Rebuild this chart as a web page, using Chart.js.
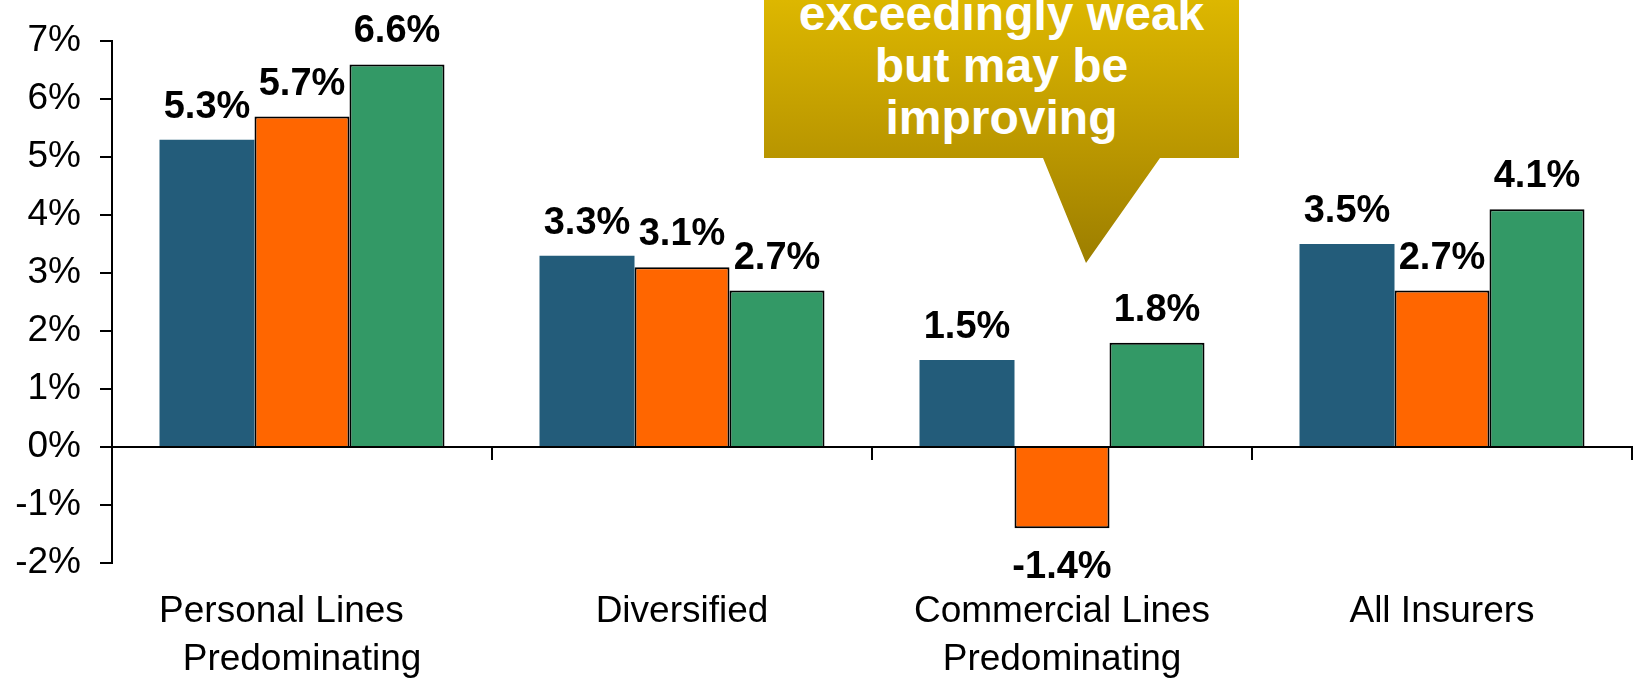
<!DOCTYPE html>
<html>
<head>
<meta charset="utf-8">
<title>ROE by segment</title>
<script src="https://cdn.jsdelivr.net/npm/chart.js@4.4.1/dist/chart.umd.min.js"></script>
<style>
  body { margin: 0; background: #fff; }
  #wrap { position: relative; width: 1634px; height: 685px; overflow: hidden; }
  #callout {
    position: absolute; left: 764px; top: -56px; width: 475px; height: 319px;
    clip-path: polygon(0 0, 475px 0, 475px 214px, 396px 214px, 322px 319px, 279px 214px, 0 214px);
    background: linear-gradient(to bottom, #E6C200 0%, #DDB700 17.5%, #B89500 67%, #9C7E00 100%);
  }
  #callout div {
    position: absolute; left: 0; right: 0; top: 44px; text-align: center; color: #fff;
    font: bold 48px/52px "Liberation Sans", Arial, sans-serif;
  }
</style>
</head>
<body>
<div id="wrap">
  <canvas id="myChart"></canvas>
  <div id="callout"><div>exceedingly weak<br>but may be<br>improving</div></div>
</div>
<script>
// categories (trailing spaces nudge the first line left like in the original)
const categories = [
  ['Personal Lines    ', 'Predominating'],
  'Diversified',
  ['Commercial Lines', 'Predominating'],
  'All Insurers'
];
const series1 = [5.3, 3.3, 1.5, 3.5];
const series2 = [5.7, 3.1, -1.4, 2.7];
const series3 = [6.6, 2.7, 1.8, 4.1];
const yTicks = [-2, -1, 0, 1, 2, 3, 4, 5, 6, 7];

const FONT = '"Liberation Sans", Arial, sans-serif';
Chart.defaults.font.family = FONT;
Chart.defaults.color = '#000';

// numbers above / below the bars
const valueLabels = {
  id: 'valueLabels',
  afterDatasetsDraw(chart) {
    const ctx = chart.ctx;
    ctx.save();
    ctx.font = 'bold 38px ' + FONT;
    ctx.fillStyle = '#000';
    ctx.textAlign = 'center';
    ctx.textBaseline = 'alphabetic';
    chart.data.datasets.forEach((ds, i) => {
      chart.getDatasetMeta(i).data.forEach((bar, j) => {
        const v = ds.data[j];
        const y = v >= 0 ? bar.y - 22 : bar.y + 50;
        ctx.fillText(v.toFixed(1) + '%', bar.x, y);
      });
    });
    ctx.restore();
  }
};

const ctx = document.getElementById('myChart');
const myChart = new Chart(ctx, {
  type: 'bar',
  data: {
    labels: categories,
    datasets: [
      { label: 'Series 1', data: series1, backgroundColor: '#235C7A', borderWidth: 0 },
      { label: 'Series 2', data: series2, backgroundColor: '#FF6600', borderColor: '#000', borderWidth: 2 },
      { label: 'Series 3', data: series3, backgroundColor: '#339966', borderColor: '#000', borderWidth: 2 }
    ]
  },
  options: {
    responsive: true,
    maintainAspectRatio: false,
    animation: false,
    categoryPercentage: 0.75,
    barPercentage: 1.0,
    layout: { padding: { top: 35, right: 2, left: 0, bottom: 0 } },
    plugins: { legend: { display: false }, tooltip: { enabled: false } },
    scales: {
      x: {
        grid: { display: false, drawTicks: false },
        border: { display: false },
        ticks: { font: { size: 37, lineHeight: 1.3 }, padding: 25, maxRotation: 0, autoSkip: false },
        afterFit: (scale) => { scale.height = 122; }
      },
      x2: {
        type: 'category',
        axis: 'x',
        position: { y: 0 },
        offset: true,
        grid: { offset: true, drawOnChartArea: false, drawTicks: true, tickLength: 12, color: '#000', lineWidth: 2 },
        border: { display: true, color: '#000', width: 2 },
        ticks: { display: false }
      },
      y: {
        min: -2,
        max: 7,
        afterBuildTicks: (scale) => { scale.ticks = yTicks.map(v => ({ value: v })); },
        grid: { drawOnChartArea: false, drawTicks: true, tickLength: 12, color: '#000', lineWidth: 2 },
        border: { display: true, color: '#000', width: 2 },
        ticks: { font: { size: 37 }, padding: 19, callback: (v) => v + '%' },
        afterFit: (scale) => { scale.width = 112; }
      }
    }
  },
  plugins: [valueLabels]
});
</script>
</body>
</html>
